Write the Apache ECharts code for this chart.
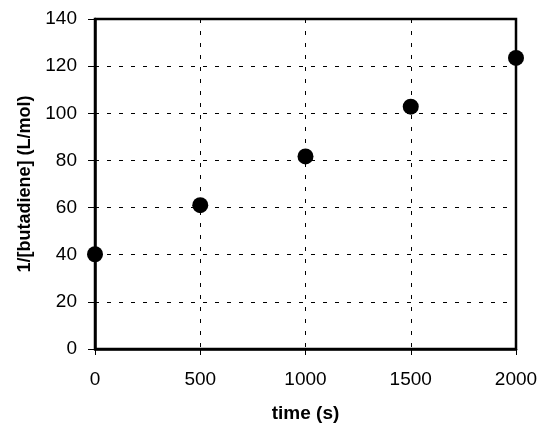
<!DOCTYPE html>
<html>
<head>
<meta charset="utf-8">
<script src="https://cdn.jsdelivr.net/npm/echarts@6/dist/echarts.min.js"></script>
<style>
  html, body { margin: 0; padding: 0; background: #fff; }
  #chart { width: 551px; height: 432px; }
</style>
</head>
<body>
<div id="chart"></div>
<script>
var times = [0, 500, 1000, 1500, 2000];
var invConc = [40.2, 61, 81.7, 102.8, 123.5];

var chart = echarts.init(document.getElementById('chart'), null, { renderer: 'canvas' });

var font = 'Liberation Sans, Arial, sans-serif';
var gridLine = { show: true, lineStyle: { color: '#000', width: 1, type: [4, 8] } };

var option = {
  backgroundColor: '#fff',
  animation: false,
  grid: {
    left: 95, right: 35, top: 19, bottom: 83,
    show: true, borderColor: '#000', borderWidth: 2.5
  },
  xAxis: {
    type: 'value',
    min: 0, max: 2000, interval: 500,
    name: 'time (s)',
    nameLocation: 'middle',
    nameGap: 55,
    nameTextStyle: { fontFamily: font, fontSize: 19, fontWeight: 'bold', color: '#000' },
    axisLine: { lineStyle: { color: '#000', width: 2.5 } },
    axisTick: { show: true, length: 6, inside: false, lineStyle: { color: '#000' } },
    axisLabel: {
      fontFamily: font, fontSize: 19, color: '#000', margin: 21,
      formatter: function (v) { return String(v); }
    },
    splitLine: gridLine
  },
  yAxis: {
    type: 'value',
    min: 0, max: 140, interval: 20,
    name: '1/[butadiene] (L/mol)',
    nameLocation: 'middle',
    nameGap: 57,
    nameTextStyle: { fontFamily: font, fontSize: 18, fontWeight: 'bold', color: '#000' },
    axisLine: { lineStyle: { color: '#000', width: 2.5 } },
    axisTick: { show: true, length: 7, lineStyle: { color: '#000' } },
    axisLabel: { fontFamily: font, fontSize: 19, color: '#000', margin: 18 },
    splitLine: gridLine
  },
  series: [{
    type: 'scatter',
    clip: false,
    symbol: 'circle',
    symbolSize: 16,
    itemStyle: { color: '#000', opacity: 1 },
    data: times.map(function (t, i) { return [t, invConc[i]]; })
  }]
};

chart.setOption(option);
</script>
</body>
</html>
